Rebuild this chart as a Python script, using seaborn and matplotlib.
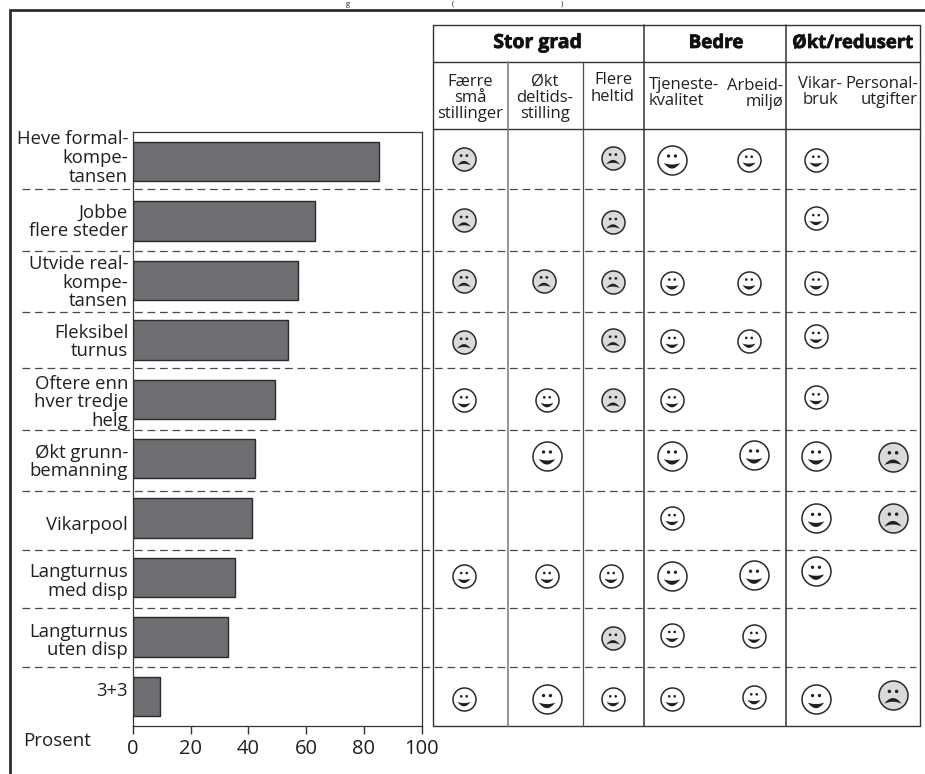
import matplotlib
matplotlib.use("Agg")
import matplotlib.pyplot as plt
import matplotlib.patheffects as pe
from matplotlib.path import Path
from matplotlib.transforms import ScaledTranslation
import numpy as np
import pandas as pd
import seaborn as sns

# ---------- data ----------
categories = ["Heve formal-\nkompe-\ntansen", "Jobbe\nflere steder", "Utvide real-\nkompe-\ntansen",
              "Fleksibel\nturnus", "Oftere enn\nhver tredje\nhelg", "Økt grunn-\nbemanning",
              "Vikarpool", "Langturnus\nmed disp", "Langturnus\nuten disp", "3+3"]
values = [85.3, 63.0, 57.2, 53.7, 49.2, 42.3, 41.2, 35.2, 32.9, 9.2]
x_ticks = [0, 20, 40, 60, 80, 100]

group_labels = ["Stor grad", "Bedre", "Økt/redusert"]
column_labels = ["Færre\nsmå\nstillinger", "Økt\ndeltids-\nstilling", "Flere\nheltid",
                 "Tjeneste-\nkvalitet", "Arbeid-\nmiljø", "Vikar-\nbruk", "Personal-\nutgifter"]

# which table cell holds which face: h = happy, s = sad; capital = large
face_table = [
    ["s", "",  "s", "H", "h", "h", ""],
    ["s", "",  "s", "",  "",  "h", ""],
    ["s", "s", "s", "h", "h", "h", ""],
    ["s", "",  "s", "h", "h", "h", ""],
    ["h", "h", "s", "h", "",  "h", ""],
    ["",  "H", "",  "H", "H", "H", "S"],
    ["",  "",  "",  "h", "",  "H", "S"],
    ["h", "h", "h", "H", "H", "H", ""],
    ["",  "",  "s", "h", "h", "",  ""],
    ["h", "H", "h", "h", "h", "H", "S"],
]

# ---------- layout (pixels) ----------
W, H = 925, 774
AX_L, AX_R, AX_T, AX_B = 133, 421.5, 132, 726
ROW0, ROW_STEP = 161.7, 59.4
col_x = [464, 547, 613, 672, 754, 816, 893]
# hand placement of faces in the original: pixel nudges per row, in cell order
row_dy = [[-3, -4, -2, -2, -2], [-1, 1, -3], [0, 0, 1, 2, 2, 2], [2, 0, 1, 1, -4],
          [1, 1, 1, 1, -2], [-3, -3, -4, -3, -2], [0, 0, 0],
          [-1.5, -1.5, -1.5, -1.5, -2.5, -6.5], [1, -2, -1], [3, 3, 3, 3, 1, 3, -1]]
row_dx = {(0, 4): -5, (2, 1): -3, (2, 4): -5, (3, 4): -5, (7, 2): -2}
dash_y = [189.3, 250.5, 312, 368, 430, 491, 550, 608, 667]
label_dy = [-6, -1.5, 0, 0, 0.5, 1, 4.5, 1.5, 2, -7]

DARK, GRID = "#333333", "#4a4a4a"
sns.set_theme(style="white")
plt.rcParams["font.family"] = ["Open Sans", "DejaVu Sans"]
plt.rcParams["text.color"] = "#231f20"
fig = plt.figure(figsize=(W / 100, H / 100), dpi=100, facecolor="white")


def px_axes(l, r, t, b, **kw):
    return fig.add_axes([l / W, 1 - b / H, (r - l) / W, (b - t) / H], **kw)


# ---------- bars ----------
ax = px_axes(AX_L, AX_R, AX_T, AX_B)
bars = pd.DataFrame({"Tiltak": categories, "Prosent": values})
sns.barplot(data=bars, x="Prosent", y="Tiltak", orient="h", color="#6d6e71", saturation=1,
            width=0.665, edgecolor="#2a2a2a", linewidth=1.0, ax=ax)
ax.set_xlim(0, 100)
ax.set_ylim(9.5, -0.5)
ax.set_xlabel("")
ax.set_ylabel("")
ax.set_xticks(x_ticks)
ax.tick_params(axis="x", length=5.5, width=1, color=DARK, bottom=True, labelsize=14.5, pad=3.5, labelcolor="#231f20")
ax.tick_params(axis="y", length=0, labelsize=13.3, pad=3.5, labelcolor="#231f20")
for spine in ax.spines.values():
    spine.set_visible(True)
    spine.set_color(DARK)
    spine.set_linewidth(0.9)
for lab, dy in zip(ax.get_yticklabels(), label_dy):
    lab.set_linespacing(1.04)
    lab.set_transform(lab.get_transform() + ScaledTranslation(0, -dy / 100, fig.dpi_scale_trans))

# ---------- overlay: frame, table, faces ----------
ov = px_axes(0, W, 0, H, zorder=5)
ov.set_xlim(0, W)
ov.set_ylim(H, 0)
ov.axis("off")
ov.patch.set_alpha(0)

# outer frame, running off the page
ov.plot([9.5, 9.5, W], [H, 9.5, 9.5], color="#2e2e2e", lw=2.0, solid_joinstyle="miter", zorder=1)

# table grid
T_L, T_R, T_T, T_B = 432.5, 920, 25, 726
ov.plot([T_L, T_R, T_R, T_L, T_L], [T_T, T_T, T_B, T_B, T_T], color=DARK, lw=1.0, zorder=2)
for y in (62, 129):
    ov.plot([T_L, T_R], [y, y], color=DARK, lw=1.0, zorder=2)
ov.plot([508, 508], [62, T_B], color="#808080", lw=1.2, zorder=2)
ov.plot([582.5, 582.5], [62, T_B], color="#4d4d4d", lw=0.9, zorder=2)
for x in (644, 786):
    ov.plot([x, x], [T_T, T_B], color=DARK, lw=1.1, zorder=2)

# dashed row separators
for y in dash_y:
    ov.plot([22, 916], [y, y], color=GRID, lw=0.9, dashes=(6.2, 3.8), zorder=3)

# what remains of the title above the frame
for x, ch in [(348, "g"), (453, "("), (562, ")")]:
    ov.text(x, 5.5, ch, ha="center", va="baseline", fontsize=5.5)

ov.text(23, 741, "Prosent", ha="left", va="center", fontsize=13.5)

# group headers
for x, s, fs in zip((538, 716, 853), group_labels, (14, 13.5, 13.3)):
    ov.text(x, 43, s, ha="center", va="center", fontsize=fs, fontweight="bold", color="#111111",
            path_effects=[pe.withStroke(linewidth=0.5, foreground="#111111")])

# column headers
head_spec = [(470, 98, "center"), (545, 98, "center"), (613, 88.5, "center"), (649, 93, "left"),
             (783, 94, "right"), (820, 92, "center"), (918, 92, "right")]
for (x, y, ha), s in zip(head_spec, column_labels):
    ov.text(x, y, s, ha=ha, va="center", multialignment=ha, fontsize=12, linespacing=1.04)

# ---------- faces ----------
rec = []
for r, cells in enumerate(face_table):
    k = 0
    for c, cell in enumerate(cells):
        if cell:
            rec.append({"x": col_x[c] + row_dx.get((r, c), 0), "y": ROW0 + ROW_STEP * r + row_dy[r][k],
                        "mood": cell.lower(), "big": cell.isupper()})
            k += 1
faces = pd.DataFrame(rec)


def feature_path(happy):
    verts, codes = [], []
    # anchor so that the marker normaliser sees the unit circle
    verts += [(1, 0), (1, 0), (1, 0)]
    codes += [Path.MOVETO, Path.LINETO, Path.CLOSEPOLY]
    circ = Path.circle((0, 0), 0.12)
    for cx in (-0.25, 0.25):
        verts += [(x + cx, y + 0.27) for x, y in circ.vertices]
        codes += list(circ.codes)
    if happy:
        verts += [(-0.6, -0.24), (0, -1.05), (0.6, -0.24), (0, -0.46), (-0.6, -0.24)]
    else:
        verts += [(-0.6, -0.58), (0, 0.2), (0.6, -0.58), (0, -0.3), (-0.6, -0.58)]
    codes += [Path.MOVETO, Path.CURVE3, Path.CURVE3, Path.CURVE3, Path.CURVE3]
    verts += [(0, 0)]
    codes += [Path.CLOSEPOLY]
    return Path(verts, codes)


for (mood, big), g in faces.groupby(["mood", "big"]):
    s = 436 if big else 275
    happy = mood == "h"
    sns.scatterplot(data=g, x="x", y="y", s=s, marker="o", color="white" if happy else "#d9dadc",
                    edgecolor="#2a2a2a", linewidth=1.1, ax=ov, zorder=6, legend=False, clip_on=False)
    sns.scatterplot(data=g, x="x", y="y", s=s, marker=feature_path(happy), color="#231f20",
                    edgecolor="none", linewidth=0, ax=ov, zorder=7, legend=False, clip_on=False)
ov.set_xlabel("")
ov.set_ylabel("")
ov.set_xlim(0, W)
ov.set_ylim(H, 0)

fig.savefig("out.png", dpi=100)
